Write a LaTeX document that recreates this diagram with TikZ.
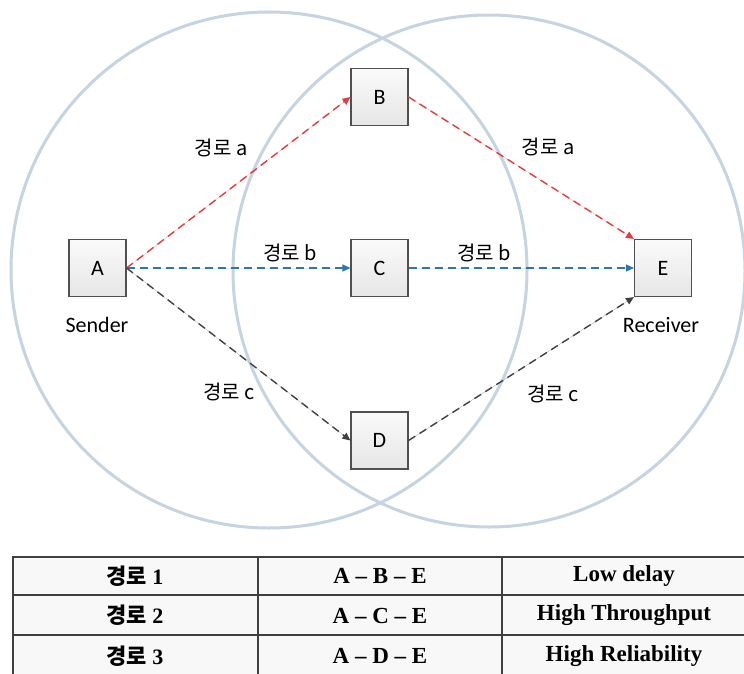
\documentclass[tikz,border=0pt]{standalone}
\usepackage{fontspec}
\setmainfont{Carlito}
\newfontfamily\krfont{Noto Sans CJK KR}
\newfontfamily\tmfont{Liberation Serif}
\usetikzlibrary{arrows.meta}
\definecolor{ringc}{HTML}{C6D3E1}
\definecolor{boxc}{HTML}{505050}
\definecolor{boxtop}{HTML}{FAFAFA}
\definecolor{boxbot}{HTML}{E6E6E6}
\definecolor{reda}{HTML}{E8393C}
\definecolor{blueb}{HTML}{2E75B6}
\definecolor{greyc}{HTML}{404040}
\definecolor{tabc}{HTML}{404040}
\definecolor{cellfill}{HTML}{F8F8F8}
\begin{document}
\begin{tikzpicture}[x=1pt,y=-1pt,
  ring/.style={draw=ringc, line width=3pt},
  nodebox/.style={draw=boxc, line width=1.1pt, top color=boxtop, bottom color=boxbot, minimum width=57pt, minimum height=57pt, inner sep=0pt, font=\fontsize{22}{24}\selectfont},
  lbl/.style={font=\krfont\fontsize{20}{24}\selectfont, inner sep=0pt},
  captxt/.style={font=\fontsize{22}{24}\selectfont, inner sep=0pt},
  link/.style={dash pattern=on 8pt off 5pt, line width=1.4pt, -{Triangle[length=8pt,width=7pt]}},
  cell/.style={draw=tabc, line width=1.2pt, fill=cellfill},
  ttxt/.style={font=\tmfont\bfseries\fontsize{23}{26}\selectfont, inner sep=0pt},
  ktxt/.style={font=\krfont\bfseries\fontsize{22}{26}\selectfont, inner sep=0pt}
]
\useasboundingbox (0,0) rectangle (744,674);
\fill[white] (0,0) rectangle (744,674);
% circles
\draw[ring] (269,270) circle[radius=258];
\draw[ring] (489,271) circle[radius=256];
% boxes
\node[nodebox] (A) at (97.5,268) {A};
\node[nodebox] (B) at (379.5,97) {B};
\node[nodebox] (C) at (379.5,268) {C};
\node[nodebox] (D) at (379.5,440.5) {D};
\node[nodebox] (E) at (663,268) {E};
\node[captxt] (snd) at (97,325) {Sender};
\node[captxt] (rcv) at (661,325) {Receiver};
% connectors
\draw[link, draw=reda, fill=reda] (A.east) -- (B.west);
\draw[link, draw=reda, fill=reda] (B.east) -- (E.north west);
\draw[link, draw=blueb, fill=blueb] (A.east) -- (C.west);
\draw[link, draw=blueb, fill=blueb] (C.east) -- (E.west);
\draw[link, draw=greyc, fill=greyc] (A.east) -- (D.west);
\draw[link, draw=greyc, fill=greyc] (D.east) -- (E.south west);
% labels
\node[lbl] (la1) at (221,148) {경로 a};
\node[lbl] (la2) at (548,147) {경로 a};
\node[lbl] (lb1) at (290,253) {경로 b};
\node[lbl] (lb2) at (484,253) {경로 b};
\node[lbl] (lc1) at (229,392) {경로 c};
\node[lbl] (lc2) at (553,394) {경로 c};
% table
\foreach \ya/\yb in {557/595,595/635,635/676}{
  \foreach \xa/\xb in {13/258,258/502,502/748}{
    \draw[cell] (\xa,\ya) rectangle (\xb,\yb);
  }
}
\node[ktxt] (r1c1) at (135,576) {경로 {\tmfont 1}};
\node[ktxt] (r2c1) at (135,615.5) {경로 {\tmfont 2}};
\node[ktxt] (r3c1) at (135,656) {경로 {\tmfont 3}};
\node[ttxt] (r1c2) at (380,576) {A – B – E};
\node[ttxt] (r2c2) at (380,615.5) {A – C – E};
\node[ttxt] (r3c2) at (380,656) {A – D – E};
\node[ttxt] (r1c3) at (624,576) {Low delay};
\node[ttxt] (r2c3) at (624,615.5) {High Throughput};
\node[ttxt] (r3c3) at (624,656) {High Reliability};
\end{tikzpicture}
\end{document}
